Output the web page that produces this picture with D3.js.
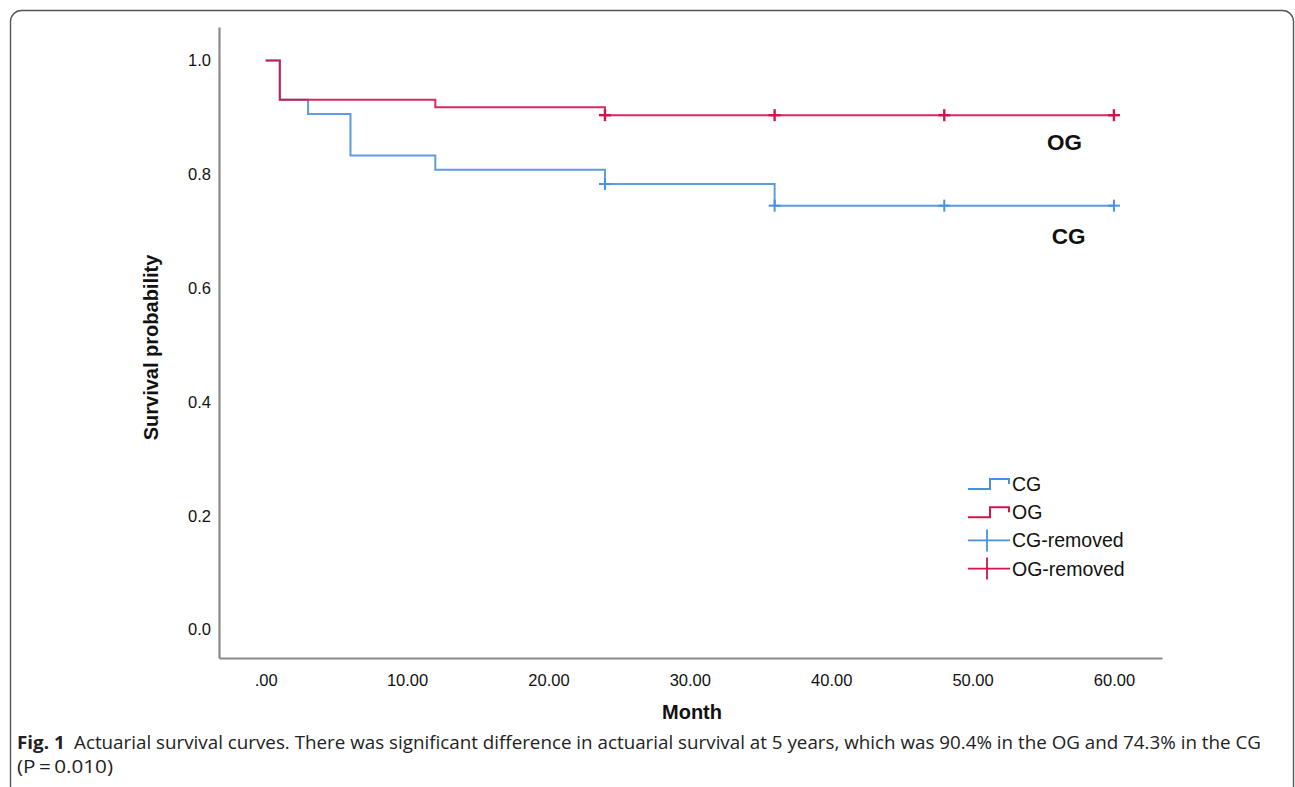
<!DOCTYPE html>
<html>
<head>
<meta charset="utf-8">
<script src="https://cdn.jsdelivr.net/npm/d3@7"></script>
<style>
  html, body { margin: 0; padding: 0; background: #fff; }
  svg { display: block; }
</style>
</head>
<body>
<svg id="chart" width="1295" height="787"></svg>
<script>
// ---- data ----
const cgTimes      = [0, 1, 3, 6, 12, 24, 36, 60];
const cgSurvival   = [1.0, 0.931, 0.906, 0.833, 0.808, 0.783, 0.745, 0.745];
const ogTimes      = [0, 1, 12, 24, 60];
const ogSurvival   = [1.0, 0.931, 0.918, 0.904, 0.904];
const cgCensored   = [24, 36, 48, 60];
const ogCensored   = [24, 36, 48, 60];
const xTickValues  = [0, 10, 20, 30, 40, 50, 60];
const xTickLabels  = [".00", "10.00", "20.00", "30.00", "40.00", "50.00", "60.00"];
const yTickValues  = [0.0, 0.2, 0.4, 0.6, 0.8, 1.0];
const yTickLabels  = ["0.0", "0.2", "0.4", "0.6", "0.8", "1.0"];
const legendLabels = ["CG", "OG", "CG-removed", "OG-removed"];
const captionBold  = "Fig. 1";
const captionLine1 = "Actuarial survival curves. There was significant difference in actuarial survival at 5 years, which was 90.4% in the OG and 74.3% in the CG";
const captionLine2 = "(P\u2009=\u20090.010)";

const BLUE = "#4a90e2";
const RED  = "#d2144a";
const AXIS = "#8a8a8a";

const svg = d3.select("#chart");

// outer rounded frame
svg.append("rect")
  .attr("x", 10.5).attr("y", 10.5)
  .attr("width", 1283).attr("height", 800)
  .attr("rx", 11).attr("ry", 11)
  .attr("fill", "none").attr("stroke", "#555").attr("stroke-width", 1.4);

const x = d3.scaleLinear().domain([-3.3, 63.4]).range([219, 1162]);
const y = d3.scaleLinear().domain([-0.05, 1.059]).range([658, 27]);

// axes
const xAxis = d3.axisBottom(x).tickValues(xTickValues)
  .tickFormat((d, i) => xTickLabels[i]).tickSize(0).tickSizeOuter(0).tickPadding(16);
const yAxis = d3.axisLeft(y).tickValues(yTickValues)
  .tickFormat((d, i) => yTickLabels[i]).tickSize(0).tickSizeOuter(0).tickPadding(8);

const gx = svg.append("g").attr("transform", `translate(0,${y.range()[0]})`).call(xAxis);
const gy = svg.append("g").attr("transform", `translate(${x.range()[0]},0)`).call(yAxis);
[gx, gy].forEach(g => {
  g.select(".domain").attr("stroke", AXIS).attr("stroke-width", 2.2);
  g.selectAll("text").attr("font-family", "Liberation Sans, Arial, sans-serif")
    .attr("font-size", 16.5).attr("fill", "#111");
});

// axis titles
svg.append("text")
  .attr("transform", `translate(158,${(y.range()[0] + y.range()[1]) / 2 + 5}) rotate(-90)`)
  .attr("text-anchor", "middle")
  .attr("font-family", "Liberation Sans, Arial, sans-serif")
  .attr("font-weight", "bold").attr("font-size", 20).attr("fill", "#111")
  .text("Survival probability");
svg.append("text")
  .attr("x", 692).attr("y", 719)
  .attr("text-anchor", "middle")
  .attr("font-family", "Liberation Sans, Arial, sans-serif")
  .attr("font-weight", "bold").attr("font-size", 20).attr("fill", "#111")
  .text("Month");

// survival curves
const line = d3.line().x(d => x(d[0])).y(d => y(d[1])).curve(d3.curveStepAfter);
const cgData = cgTimes.map((t, i) => [t, cgSurvival[i]]);
const ogData = ogTimes.map((t, i) => [t, ogSurvival[i]]);

function survAt(times, vals, t) {
  let v = vals[0];
  for (let i = 0; i < times.length; i++) if (times[i] <= t) v = vals[i];
  return v;
}

svg.append("path").datum(cgData).attr("d", line)
  .attr("fill", "none").attr("stroke", BLUE).attr("stroke-width", 2).attr("stroke-opacity", 0.9);
svg.append("path").datum(ogData).attr("d", line)
  .attr("fill", "none").attr("stroke", RED).attr("stroke-width", 2).attr("stroke-opacity", 0.9);

function drawCensor(times, tt, vv, color, w) {
  const g = svg.append("g").attr("stroke", color).attr("stroke-width", w);
  times.forEach(t => {
    const cx = x(t), cy = y(survAt(tt, vv, t));
    g.append("line").attr("x1", cx - 6).attr("x2", cx + 6).attr("y1", cy).attr("y2", cy);
    g.append("line").attr("x1", cx).attr("x2", cx).attr("y1", cy - 6).attr("y2", cy + 6);
  });
}
drawCensor(cgCensored, cgTimes, cgSurvival, BLUE, 2);
drawCensor(ogCensored, ogTimes, ogSurvival, RED, 2.4);

// curve labels
svg.append("text").attr("x", x(56.5)).attr("y", y(0.843))
  .attr("text-anchor", "middle")
  .attr("font-family", "Liberation Sans, Arial, sans-serif")
  .attr("font-weight", "bold").attr("font-size", 22.5).attr("fill", "#111").text("OG");
svg.append("text").attr("x", x(56.8)).attr("y", y(0.678))
  .attr("text-anchor", "middle")
  .attr("font-family", "Liberation Sans, Arial, sans-serif")
  .attr("font-weight", "bold").attr("font-size", 22.5).attr("fill", "#111").text("CG");

// legend
const legend = svg.append("g").attr("transform", "translate(968,484)");
const legColors = [BLUE, RED, BLUE, RED];
legendLabels.forEach((lab, i) => {
  const g = legend.append("g").attr("transform", `translate(0,${i * 28.2})`);
  if (i < 2) {
    g.append("path")
      .attr("d", "M0,5 H22 V-5 H41 V0")
      .attr("fill", "none").attr("stroke", legColors[i]).attr("stroke-width", 2);
  } else {
    g.append("path")
      .attr("d", "M0,0 H42 M19,-11 V11")
      .attr("fill", "none").attr("stroke", legColors[i]).attr("stroke-width", 1.8);
  }
  g.append("text").attr("x", 44).attr("y", 7)
    .attr("font-family", "Liberation Sans, Arial, sans-serif")
    .attr("font-size", 19.5).attr("fill", "#111").text(lab);
});

// caption
const cap = svg.append("text").attr("x", 17).attr("y", 749)
  .attr("font-family", "Open Sans, Noto Sans, sans-serif")
  .attr("font-size", 17.5).attr("fill", "#222")
  .attr("textLength", 1244).attr("lengthAdjust", "spacingAndGlyphs");
cap.append("tspan").attr("font-weight", "bold").text(captionBold);
cap.append("tspan").text("\u2002" + captionLine1);
svg.append("text").attr("x", 17).attr("y", 773)
  .attr("font-family", "Open Sans, Noto Sans, sans-serif")
  .attr("font-size", 17.5).attr("fill", "#222")
  .attr("textLength", 96).attr("lengthAdjust", "spacingAndGlyphs")
  .text(captionLine2);
</script>
</body>
</html>
